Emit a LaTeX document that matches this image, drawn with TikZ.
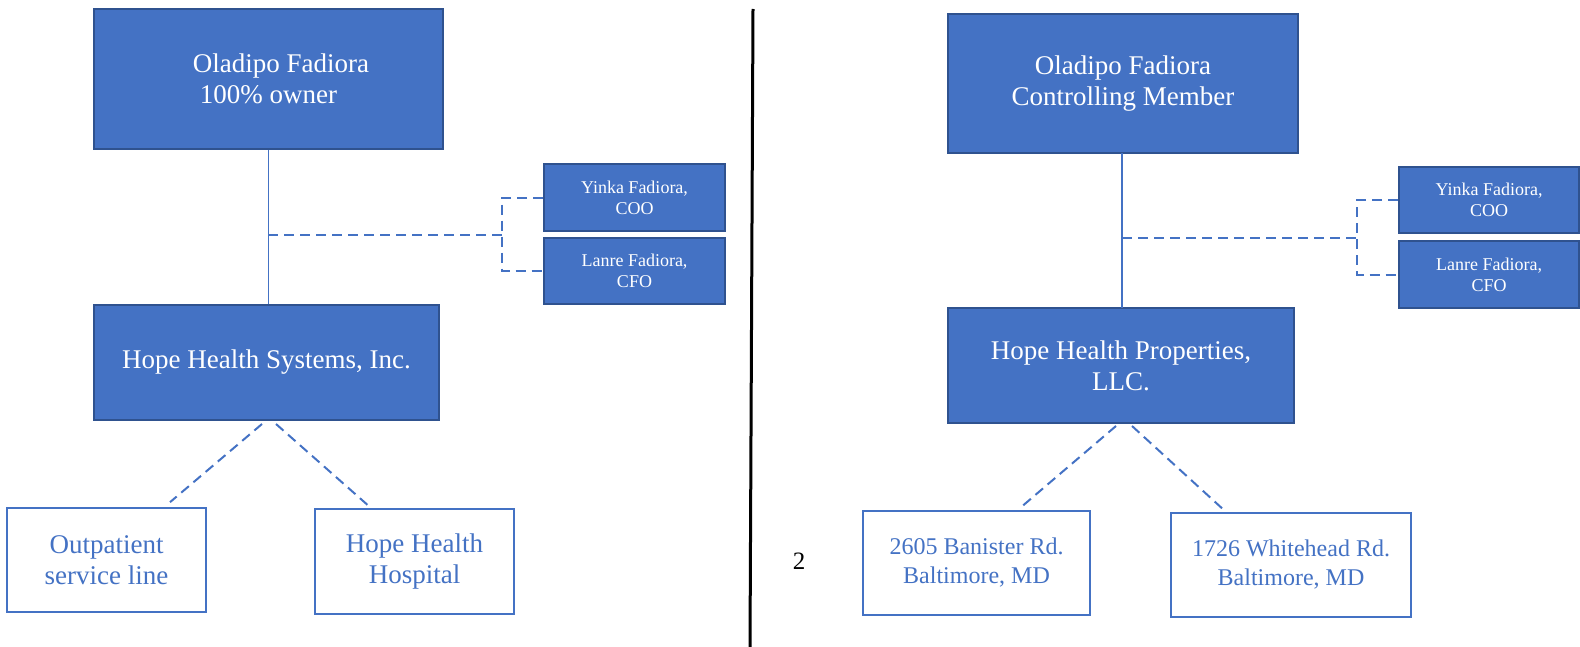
\documentclass[tikz,border=0pt]{standalone}
\usepackage{fontspec}
\setmainfont{Liberation Serif}
\usetikzlibrary{calc}

\definecolor{boxblue}{HTML}{4472C4}
\definecolor{edgeblue}{HTML}{2F528F}

\tikzset{
  owner/.style={draw=edgeblue, line width=1pt, fill=boxblue, text=white, align=center, inner sep=0pt, font=\fontsize{13.5}{15.5}\selectfont},
  officer/.style={owner, font=\fontsize{9}{10.5}\selectfont},
  unit/.style={draw=boxblue, line width=0.8pt, fill=white, text=boxblue, align=center, inner sep=0pt, font=\fontsize{13.5}{15.5}\selectfont},
  address/.style={unit, font=\fontsize{12}{14.5}\selectfont},
  tie/.style={draw=boxblue, line width=0.6pt},
  link/.style={draw=boxblue, line width=1pt, dash pattern=on 5pt off 3pt}
}

\begin{document}
\begin{tikzpicture}[x=0.5pt, y=-0.5pt]
  \useasboundingbox (0,0) rectangle (1580,647);

  \node[owner, minimum width=174.5pt, minimum height=70pt] (own1) at (268.5,79) {\hspace*{12.5pt}Oladipo Fadiora\\100\% owner};
  \node[officer, minimum width=90.5pt, minimum height=33.5pt] (coo1) at (634.5,197.5) {Yinka Fadiora,\\COO};
  \node[officer, minimum width=90.5pt, minimum height=33pt] (cfo1) at (634.5,271) {Lanre Fadiora,\\CFO};
  \node[owner, minimum width=172.5pt, minimum height=57.5pt] (sys) at (266.5,362.5) {Hope Health Systems, Inc.};
  \node[unit, minimum width=99.5pt, minimum height=52pt] (opl) at (106.5,560) {Outpatient\\service line};
  \node[unit, minimum width=99.5pt, minimum height=52.5pt] (hosp) at (414.5,561.5) {Hope Health\\Hospital};

  \coordinate (mid1) at (268,235);
  \coordinate (fork1) at (502,235);
  \draw[tie] (own1.south) -- (own1.south |- sys.north);
  \draw[link] (mid1) -- (fork1);
  \draw[link] (coo1.west) -| (fork1) |- (cfo1.west);
  \draw[link] ($(sys.south)+(-4.5,3)$) -- ($(opl.north)+(63.5,-5)$);
  \draw[link] ($(sys.south)+(9.5,3)$) -- ($(hosp.north)+(-45.5,-2)$);

  \draw[line width=1.5pt] (753,9) -- (750,647);
  \node[font=\fontsize{12.5}{15}\selectfont] (page) at (799,561) {2};

  \node[owner, minimum width=175pt, minimum height=69.5pt] (own2) at (1123,83.5) {Oladipo Fadiora\\Controlling Member};
  \node[officer, minimum width=90pt, minimum height=33pt] (coo2) at (1489,200) {Yinka Fadiora,\\COO};
  \node[officer, minimum width=90pt, minimum height=33.5pt] (cfo2) at (1489,274.5) {Lanre Fadiora,\\CFO};
  \node[owner, minimum width=173pt, minimum height=57.5pt] (prop) at (1121,365.5) {Hope Health Properties,\\LLC.};
  \node[address, minimum width=113.5pt, minimum height=52pt] (site1) at (976.5,563) {2605 Banister Rd.\\Baltimore, MD};
  \node[address, minimum width=120pt, minimum height=52pt] (site2) at (1291,565) {1726 Whitehead Rd.\\Baltimore, MD};

  \coordinate (mid2) at (1122,238);
  \coordinate (fork2) at (1357,238);
  \draw[tie] (1122,153) -- (1122,308);
  \draw[link] (mid2) -- (fork2);
  \draw[link] (coo2.west) -| (fork2) |- (cfo2.west);
  \draw[link] ($(prop.south)+(-5,2)$) -- ($(site1.north)+(44.5,-3)$);
  \draw[link] ($(prop.south)+(11,2)$) -- ($(site2.north)+(-68,-3)$);
\end{tikzpicture}
\end{document}
